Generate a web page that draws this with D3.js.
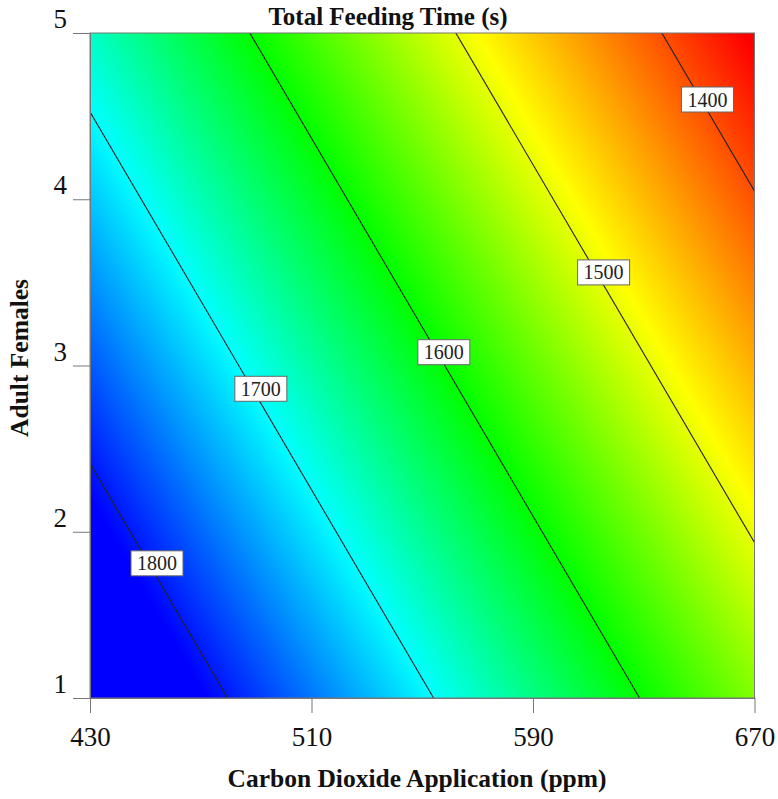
<!DOCTYPE html>
<html>
<head>
<meta charset="utf-8">
<script src="https://cdn.jsdelivr.net/npm/d3@7"></script>
<style>
  html, body { margin: 0; padding: 0; background: #fff; }
  svg { display: block; font-family: "Liberation Serif", "Times New Roman", serif; }
</style>
</head>
<body>
<svg id="chart" width="778" height="799"></svg>
<script>
// Response surface: Total Feeding Time (s) vs CO2 application and adult females
const co2Ticks = [430, 510, 590, 670];
const femaleTicks = [1, 2, 3, 4, 5];
const contourLevels = [1400, 1500, 1600, 1700, 1800];
// Where each contour's label sits (same order as contourLevels)
const labelCO2 = [653, 615.5, 557.8, 491.7, 454.2];
const labelFemales = [4.6, 3.56, 3.08, 2.86, 1.81];
// Fitted linear model coefficients
const intercept = 2492;
const coefCO2 = -1.344;
const coefFemales = -47.3;
// Rainbow colour ramp stops (feeding time -> colour)
const colorStops = [1810, 1700, 1600, 1490, 1360];
const colorRamp = ["#0000ff", "#00ffff", "#00ff00", "#ffff00", "#ff0000"];

const W = 778, H = 799;
const margin = { top: 33, right: 23.5, bottom: 101, left: 90 };
const iw = W - margin.left - margin.right;
const ih = H - margin.top - margin.bottom;

const predict = (c, f) => intercept + coefCO2 * c + coefFemales * f;
const co2AtLevel = (level, f) => (level - intercept - coefFemales * f) / coefCO2;

const x = d3.scaleLinear().domain([430, 670]).range([0, iw]);
const y = d3.scaleLinear().domain([1, 5]).range([ih, 0]);
const color = d3.scaleLinear().domain(colorStops).range(colorRamp).clamp(true);

const svg = d3.select("#chart");
const g = svg.append("g").attr("transform", `translate(${margin.left},${margin.top})`);

// Colour field rendered to a raster, then placed in the plot
const cw = Math.round(iw), ch = Math.round(ih);
const canvas = document.createElement("canvas");
canvas.width = cw; canvas.height = ch;
const ctx = canvas.getContext("2d");
const img = ctx.createImageData(cw, ch);
for (let j = 0; j < ch; j++) {
  const f = y.invert(j + 0.5);
  for (let i = 0; i < cw; i++) {
    const c = x.invert(i + 0.5);
    const rgb = d3.rgb(color(predict(c, f)));
    const k = (j * cw + i) * 4;
    img.data[k] = rgb.r; img.data[k + 1] = rgb.g; img.data[k + 2] = rgb.b; img.data[k + 3] = 255;
  }
}
ctx.putImageData(img, 0, 0);
g.append("image")
  .attr("x", 0).attr("y", 0)
  .attr("width", iw).attr("height", ih)
  .attr("preserveAspectRatio", "none")
  .attr("href", canvas.toDataURL());

// Clip contour lines to the plot region
svg.append("defs").append("clipPath").attr("id", "plotClip")
  .append("rect").attr("width", iw).attr("height", ih);

const line = d3.line().x(d => x(d[0])).y(d => y(d[1]));
const contourG = g.append("g").attr("clip-path", "url(#plotClip)");
contourLevels.forEach(level => {
  const pts = [0, 6].map(f => [co2AtLevel(level, f), f]);
  contourG.append("path")
    .attr("d", line(pts))
    .attr("fill", "none")
    .attr("stroke", "#222")
    .attr("stroke-width", 1.1);
});

// Contour labels
const labelG = g.append("g");
contourLevels.forEach((level, i) => {
  const cx = x(labelCO2[i]);
  const cy = y(labelFemales[i]);
  const bw = 52, bh = 25;
  labelG.append("rect")
    .attr("x", cx - bw / 2).attr("y", cy - bh / 2)
    .attr("width", bw).attr("height", bh)
    .attr("fill", "#fff")
    .attr("stroke", "#666")
    .attr("stroke-width", 1);
  labelG.append("text")
    .attr("x", cx).attr("y", cy)
    .attr("dy", "0.35em")
    .attr("text-anchor", "middle")
    .attr("font-size", 20)
    .attr("fill", "#222")
    .text(level);
});

// Plot frame
g.append("rect")
  .attr("width", iw).attr("height", ih)
  .attr("fill", "none")
  .attr("stroke", "#777")
  .attr("stroke-width", 1);

// Axes
const xAxis = g.append("g")
  .attr("transform", `translate(0,${ih})`)
  .call(d3.axisBottom(x).tickValues(co2Ticks).tickFormat(d3.format("d"))
    .tickSize(15).tickPadding(14).tickSizeOuter(0));
const yAxis = g.append("g")
  .call(d3.axisLeft(y).tickValues(femaleTicks).tickFormat(d3.format("d"))
    .tickSize(17).tickPadding(6).tickSizeOuter(0));

[xAxis, yAxis].forEach(a => {
  a.select(".domain").attr("stroke", "#777");
  a.selectAll(".tick line").attr("stroke", "#777");
  a.selectAll(".tick text")
    .attr("font-family", "Liberation Serif, Times New Roman, serif")
    .attr("font-size", 27)
    .attr("fill", "#111");
});
yAxis.selectAll(".tick text").attr("dy", "-0.2em");

// Titles
svg.append("text")
  .attr("x", 388).attr("y", 25)
  .attr("text-anchor", "middle")
  .attr("font-weight", "bold")
  .attr("font-size", 25)
  .attr("fill", "#111")
  .text("Total Feeding Time (s)");

svg.append("text")
  .attr("x", 417).attr("y", 787)
  .attr("text-anchor", "middle")
  .attr("font-weight", "bold")
  .attr("font-size", 25.5)
  .attr("fill", "#111")
  .text("Carbon Dioxide Application (ppm)");

svg.append("text")
  .attr("transform", "translate(28,358) rotate(-90)")
  .attr("text-anchor", "middle")
  .attr("font-weight", "bold")
  .attr("font-size", 25.5)
  .attr("fill", "#111")
  .text("Adult Females");
</script>
</body>
</html>
